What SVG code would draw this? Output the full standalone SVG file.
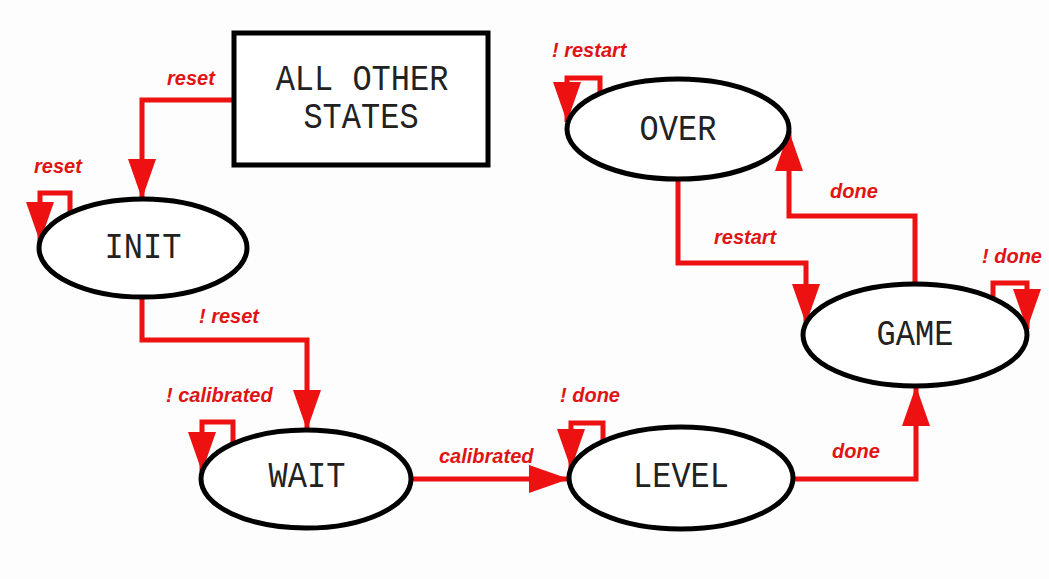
<svg xmlns="http://www.w3.org/2000/svg" width="1049" height="579" viewBox="0 0 1049 579">
<style>
.node{fill:#ffffff;stroke:#000;stroke-width:5}
.nt{font-family:"Liberation Mono","Courier New",monospace;font-size:32px;fill:#222;text-anchor:middle}
.edge{fill:none;stroke:#ee1111;stroke-width:5;stroke-linejoin:miter}
.lbl{font-family:"Liberation Sans",Arial,sans-serif;font-size:20px;font-weight:bold;font-style:italic;fill:#e01414}
</style>
<defs>
<marker id="ah" markerUnits="userSpaceOnUse" markerWidth="40" markerHeight="28" refX="40" refY="14" orient="auto" viewBox="0 0 40 28">
<path d="M0,0 L40,14 L0,28 z" fill="#ee1111"/>
</marker>
</defs>
<rect width="1049" height="579" fill="#fcfdfc"/>
<g id="connectors">
<path class="edge" marker-end="url(#ah)" d="M234,100 H142 V199"/>
<path class="edge" marker-end="url(#ah)" d="M70,213 V193 H40 V242"/>
<path class="edge" marker-end="url(#ah)" d="M142,297 V340 H307 V430"/>
<path class="edge" marker-end="url(#ah)" d="M233,444 V422 H202 V472"/>
<path class="edge" marker-end="url(#ah)" d="M411,479 H569"/>
<path class="edge" marker-end="url(#ah)" d="M603,441 V423 H571 V469"/>
<path class="edge" marker-end="url(#ah)" d="M793,479 H916 V386"/>
<path class="edge" marker-end="url(#ah)" d="M993,298 V283 H1027 V329"/>
<path class="edge" marker-end="url(#ah)" d="M678,179 V263 H806 V324"/>
<path class="edge" marker-end="url(#ah)" d="M915,284 V216 H789 V131"/>
<path class="edge" marker-end="url(#ah)" d="M600,93 V78 H567 V122"/>
</g>
<g id="labels">
<text class="lbl" x="167" y="85">reset</text>
<text class="lbl" x="34" y="173">reset</text>
<text class="lbl" x="199" y="323">! reset</text>
<text class="lbl" x="166" y="402">! calibrated</text>
<text class="lbl" x="439" y="463">calibrated</text>
<text class="lbl" x="560" y="402">! done</text>
<text class="lbl" x="832" y="458">done</text>
<text class="lbl" x="830" y="198">done</text>
<text class="lbl" x="714" y="244">restart</text>
<text class="lbl" x="982" y="263">! done</text>
<text class="lbl" x="552" y="57">! restart</text>
</g>
<g id="all-other-states">
<rect class="node" x="234" y="33" width="254" height="132"/>
<text class="nt" transform="translate(362 90) scale(1 1.15)">ALL OTHER</text>
<text class="nt" transform="translate(361 128) scale(1 1.15)">STATES</text>
</g>
<g id="init">
<ellipse class="node" cx="143" cy="248" rx="104" ry="49"/>
<text class="nt" transform="translate(143 258) scale(1 1.15)">INIT</text>
</g>
<g id="wait">
<ellipse class="node" cx="306" cy="479" rx="105" ry="49"/>
<text class="nt" transform="translate(307 487) scale(1 1.15)">WAIT</text>
</g>
<g id="level">
<ellipse class="node" cx="681" cy="478" rx="112" ry="51"/>
<text class="nt" transform="translate(681 487) scale(1 1.15)">LEVEL</text>
</g>
<g id="game">
<ellipse class="node" cx="915" cy="335" rx="112" ry="51"/>
<text class="nt" transform="translate(915 345) scale(1 1.15)">GAME</text>
</g>
<g id="over">
<ellipse class="node" cx="678" cy="129" rx="111" ry="50"/>
<text class="nt" transform="translate(678 140) scale(1 1.15)">OVER</text>
</g>
</svg>
